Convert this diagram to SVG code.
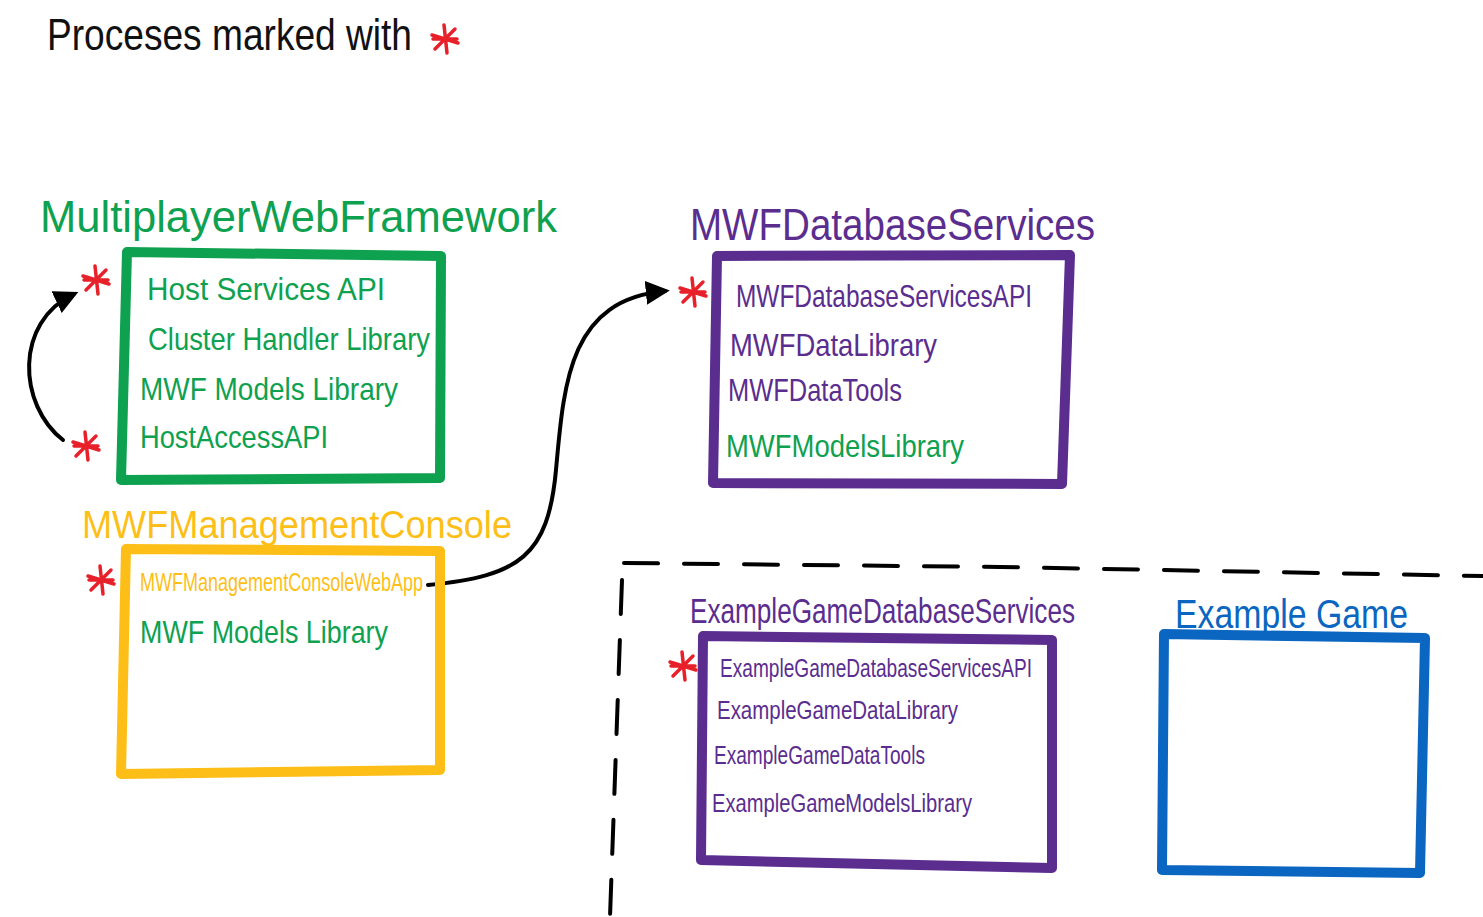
<svg xmlns="http://www.w3.org/2000/svg" width="1483" height="917" viewBox="0 0 1483 917">
<style>
text{font-family:"Liberation Sans","DejaVu Sans",sans-serif;}
.t{font-size:44px;fill:#111;}
.g{fill:#0ea14f;}
.p{fill:#5a2d8f;}
.y{fill:#fdbf17;}
.b{fill:#0a66c0;}
.box{fill:none;stroke-width:10;stroke-linejoin:round;stroke-linecap:round;}
.gb{stroke:#0ea14f;}
.pb{stroke:#5a2d8f;}
.yb{stroke:#fdbf17;}
.bb{stroke:#0a66c0;}
.h{font-size:44px;}
.i{font-size:32px;}
.s{font-size:25px;}
.ast{stroke:#e8202a;stroke-width:3.5;stroke-linecap:round;fill:none;}
.con{fill:none;stroke:#000;stroke-width:4;stroke-linecap:round;}
.dash{fill:none;stroke:#000;stroke-width:4;stroke-dasharray:34 26;stroke-linecap:round;}
</style>
<defs>
<symbol id="star" viewBox="-15 -15 30 30" width="30" height="30" overflow="visible">
<path class="ast" d="M-1,-14 L2,14 M-13,-4 L13,4 M-10,10 L10,-10 M-12,0 L12,0"/>
</symbol>
<marker id="ah" viewBox="0 0 10 10" refX="8" refY="5" markerWidth="6" markerHeight="6" orient="auto" markerUnits="strokeWidth">
<path d="M0,0 L10,5 L0,10 Z" fill="#000"/>
</marker>
</defs>

<g id="legend">
<text class="t" x="47" y="50" textLength="365" lengthAdjust="spacingAndGlyphs">Proceses marked with</text>
<use href="#star" x="430" y="24"/>
</g>

<g id="connectors">
<path class="con" d="M63,440 C18,405 14,322 74,294" marker-end="url(#ah)"/>
<path class="con" d="M428,585 C520,576 548,556 556,470 C564,380 570,300 665,291" marker-end="url(#ah)"/>
</g>

<g id="MultiplayerWebFramework">
<text class="g h" x="40" y="232" textLength="517" lengthAdjust="spacingAndGlyphs">MultiplayerWebFramework</text>
<path class="box gb" d="M127,252 L441,256 L440,478 L121,480 Z"/>
<text class="g i" x="147" y="300" textLength="238" lengthAdjust="spacingAndGlyphs">Host Services API</text>
<text class="g i" x="148" y="350" textLength="282" lengthAdjust="spacingAndGlyphs">Cluster Handler Library</text>
<text class="g i" x="140" y="400" textLength="258" lengthAdjust="spacingAndGlyphs">MWF Models Library</text>
<text class="g i" x="140" y="448" textLength="188" lengthAdjust="spacingAndGlyphs">HostAccessAPI</text>
<use href="#star" x="81" y="265"/>
<use href="#star" x="71" y="431"/>
</g>

<g id="MWFDatabaseServices">
<text class="p h" x="690" y="240" textLength="405" lengthAdjust="spacingAndGlyphs">MWFDatabaseServices</text>
<path class="box pb" d="M717,256 L1070,255 L1062,484 L713,483 Z"/>
<text class="p i" x="736" y="307" textLength="296" lengthAdjust="spacingAndGlyphs">MWFDatabaseServicesAPI</text>
<text class="p i" x="730" y="356" textLength="207" lengthAdjust="spacingAndGlyphs">MWFDataLibrary</text>
<text class="p i" x="728" y="401" textLength="174" lengthAdjust="spacingAndGlyphs">MWFDataTools</text>
<text class="g i" x="726" y="457" textLength="238" lengthAdjust="spacingAndGlyphs">MWFModelsLibrary</text>
<use href="#star" x="678" y="277"/>
</g>

<g id="MWFManagementConsole">
<text class="y" style="font-size:38px" x="82" y="538" textLength="430" lengthAdjust="spacingAndGlyphs">MWFManagementConsole</text>
<path class="box yb" d="M126,549 L440,551 L440,770 L121,774 Z"/>
<text class="y s" x="140" y="591" textLength="283" lengthAdjust="spacingAndGlyphs">MWFManagementConsoleWebApp</text>
<text class="g i" x="140" y="643" textLength="248" lengthAdjust="spacingAndGlyphs">MWF Models Library</text>
<use href="#star" x="86" y="565"/>
</g>

<g id="boundary">
<path class="dash" d="M624,563 L1000,567 L1483,576"/>
<path class="dash" d="M622,580 L610,917"/>
</g>

<g id="ExampleGameDatabaseServices">
<text class="p" style="font-size:35px" x="690" y="623" textLength="385" lengthAdjust="spacingAndGlyphs">ExampleGameDatabaseServices</text>
<path class="box pb" d="M703,636 L1052,640 L1052,868 L701,860 Z"/>
<text class="p s" x="720" y="677" textLength="312" lengthAdjust="spacingAndGlyphs">ExampleGameDatabaseServicesAPI</text>
<text class="p s" x="717" y="719" textLength="241" lengthAdjust="spacingAndGlyphs">ExampleGameDataLibrary</text>
<text class="p s" x="714" y="764" textLength="211" lengthAdjust="spacingAndGlyphs">ExampleGameDataTools</text>
<text class="p s" x="712" y="812" textLength="260" lengthAdjust="spacingAndGlyphs">ExampleGameModelsLibrary</text>
<use href="#star" x="668" y="651"/>
</g>

<g id="ExampleGame">
<text class="b" style="font-size:40px" x="1175" y="628" textLength="233" lengthAdjust="spacingAndGlyphs">Example Game</text>
<path class="box bb" d="M1164,634 L1425,638 L1420,873 L1162,870 Z"/>
</g>
</svg>
